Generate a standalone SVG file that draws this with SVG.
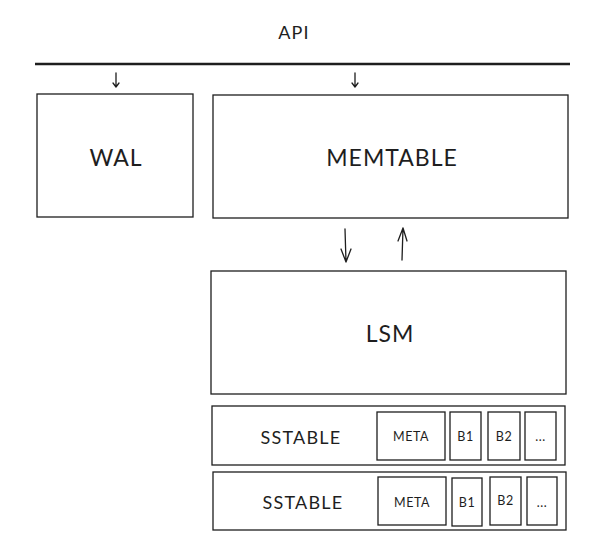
<svg xmlns="http://www.w3.org/2000/svg" width="605" height="552" viewBox="0 0 605 552">
<style>
.box{fill:#fff;stroke:#1e1e1e;stroke-width:1.3}
.t{font-family:Lato,"Open Sans",sans-serif;fill:#1e1e1e;text-anchor:middle;dominant-baseline:central}
.big{font-size:23px;letter-spacing:1px}
.mid{font-size:18px;letter-spacing:1.2px}
.sm{font-size:12.5px;letter-spacing:0.5px}
.c{stroke:#1e1e1e;stroke-width:1.3;fill:none;stroke-linecap:round;stroke-linejoin:round}
</style>
<rect width="605" height="552" fill="#fff"/>
<g id="api">
<text class="t mid" x="294" y="32">API</text>
<line x1="35" y1="64" x2="570" y2="64" stroke="#1e1e1e" stroke-width="2.5"/>
</g>
<g id="wal"><rect class="box" x="37" y="94" width="156" height="123"/><text class="t big" x="116" y="157">WAL</text></g>
<g id="memtable"><rect class="box" x="213" y="95" width="355" height="123"/><text class="t big" x="392" y="157">MEMTABLE</text></g>
<g id="lsm"><rect class="box" x="211" y="271" width="355" height="123"/><text class="t big" x="390" y="333">LSM</text></g>
<g id="sstable1">
<rect class="box" x="212" y="406" width="353" height="59"/>
<text class="t mid" x="301" y="437">SSTABLE</text>
<rect class="box" x="377" y="412" width="68" height="48"/><text class="t sm" x="411" y="436">META</text>
<rect class="box" x="450" y="412" width="31" height="48"/><text class="t sm" x="465.5" y="436">B1</text>
<rect class="box" x="488" y="412" width="32" height="48"/><text class="t sm" x="504" y="436">B2</text>
<rect class="box" x="525" y="412" width="31" height="48"/><text class="t sm" x="540.5" y="436">...</text>
</g>
<g id="sstable2">
<rect class="box" x="213" y="472" width="353" height="58"/>
<text class="t mid" x="303" y="502">SSTABLE</text>
<rect class="box" x="378" y="477" width="68" height="48"/><text class="t sm" x="412" y="502">META</text>
<rect class="box" x="452" y="478" width="30" height="48"/><text class="t sm" x="467" y="502">B1</text>
<rect class="box" x="490" y="477" width="31" height="48"/><text class="t sm" x="505.5" y="500">B2</text>
<rect class="box" x="527" y="477" width="30" height="48"/><text class="t sm" x="542" y="502">...</text>
</g>
<g id="connectors">
<path class="c" d="M116 73 L116 87 M113 83 L116 87 L119 83"/>
<path class="c" d="M355 73 L355 87 M352 83 L355 87 L358 83"/>
<path class="c" d="M345 229 L346 262 M341 249 L346 262 L351 249"/>
<path class="c" d="M402 260 L403 228 M398 241 L403 228 L407 241"/>
</g>
</svg>
